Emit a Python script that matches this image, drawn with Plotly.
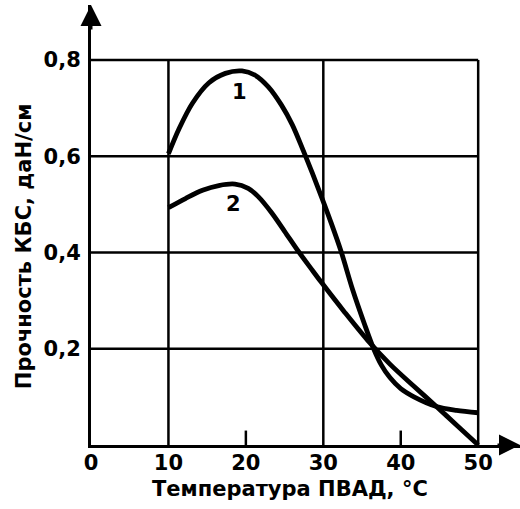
import plotly.graph_objects as go

# Data
curve1_x = [10, 11.4, 13.1, 15.2, 17.35, 19.5, 21.2, 22.9, 24.6, 26.0, 27.4, 28.6, 29.8, 31.0, 32.3, 33.8, 35.3, 36.5, 37.5, 38.6, 40.0, 41.7, 44.6, 47.2, 50]
curve1_y = [0.605, 0.658, 0.71, 0.752, 0.772, 0.777, 0.768, 0.744, 0.706, 0.665, 0.612, 0.564, 0.514, 0.462, 0.402, 0.322, 0.252, 0.20, 0.166, 0.14, 0.117, 0.10, 0.08, 0.072, 0.067]

curve2_x = [10, 12.2, 14.4, 16.5, 18.6, 20.3, 21.6, 23.3, 25.0, 26.7, 28.4, 29.7, 32.7, 35.7, 38.6, 41.7, 44.6, 47.3, 50]
curve2_y = [0.493, 0.512, 0.529, 0.539, 0.542, 0.533, 0.516, 0.483, 0.444, 0.404, 0.367, 0.339, 0.277, 0.218, 0.168, 0.122, 0.08, 0.04, 0.0]

x_ticks = [0, 10, 20, 30, 40, 50]
x_ticktext = ["0", "10", "20", "30", "40", "50"]
y_ticks = [0.2, 0.4, 0.6, 0.8]
y_ticktext = ["0,2", "0,4", "0,6", "0,8"]
x_grid = [10, 30, 50]
x_minor = [20, 40]

x_title = "Температура ПВАД, °C"
y_title = "Прочность КБС, даН/см"
labels = ["1", "2"]

FONT = "DejaVu Sans"
X_MAX, Y_MAX = 50, 0.8
X_RANGE = [0, 55.4]
Y_RANGE = [0, 0.914]

fig = go.Figure()
line_style = dict(color="black", width=4.8, shape="spline", smoothing=0.9)
fig.add_trace(go.Scatter(x=curve1_x, y=curve1_y, mode="lines", line=line_style, showlegend=False))
fig.add_trace(go.Scatter(x=curve2_x, y=curve2_y, mode="lines", line=line_style, showlegend=False))

shapes = []
for yv in y_ticks:
    shapes.append(dict(type="line", xref="x", yref="y", x0=0, x1=X_MAX, y0=yv, y1=yv,
                       line=dict(color="black", width=2.5), layer="below"))
for xv in x_grid:
    shapes.append(dict(type="line", xref="x", yref="y", x0=xv, x1=xv, y0=0, y1=Y_MAX,
                       line=dict(color="black", width=2.5), layer="below"))
for xv in x_minor:
    shapes.append(dict(type="line", xref="x", yref="y", x0=xv, x1=xv, y0=0, y1=0.03,
                       line=dict(color="black", width=2.5), layer="below"))

annotations = [
    # axis arrowheads
    dict(x=X_RANGE[1], y=0, xref="x", yref="y", ax=-24, ay=0, text="", showarrow=True,
         arrowhead=2, arrowsize=1.4, arrowwidth=3, arrowcolor="black"),
    dict(x=0, y=Y_RANGE[1], xref="x", yref="y", ax=0, ay=26, text="", showarrow=True,
         arrowhead=2, arrowsize=1.4, arrowwidth=3, arrowcolor="black"),
    # curve labels
    dict(x=19.2, y=0.733, xref="x", yref="y", text=labels[0], showarrow=False,
         font=dict(family=FONT, size=21, color="black", weight="bold")),
    dict(x=18.4, y=0.50, xref="x", yref="y", text=labels[1], showarrow=False,
         font=dict(family=FONT, size=21, color="black", weight="bold")),
    # axis titles
    dict(x=25.75, y=0, xref="x", yref="paper", yshift=-44, text=x_title, showarrow=False,
         xanchor="center", yanchor="middle",
         font=dict(family=FONT, size=21, color="black", weight="bold")),
    dict(x=0, y=0.411, xref="paper", yref="y", xshift=-67, text=y_title, showarrow=False,
         textangle=-90, xanchor="center", yanchor="middle",
         font=dict(family=FONT, size=21, color="black", weight="bold")),
]

fig.update_layout(
    width=520, height=509,
    margin=dict(l=91, r=0, t=5, b=64, autoexpand=False),
    paper_bgcolor="white", plot_bgcolor="white",
    shapes=shapes, annotations=annotations,
    xaxis=dict(range=X_RANGE, tickvals=x_ticks, ticktext=x_ticktext, showgrid=False,
               zeroline=False, showline=True, linecolor="black", linewidth=3, ticks="",
               ticklabelstandoff=-3, automargin=False,
               tickfont=dict(family=FONT, size=21, color="black", weight="bold")),
    yaxis=dict(range=Y_RANGE, tickvals=y_ticks, ticktext=y_ticktext, showgrid=False,
               zeroline=False, showline=True, linecolor="black", linewidth=3, ticks="",
               ticklabelstandoff=3, automargin=False,
               tickfont=dict(family=FONT, size=21, color="black", weight="bold")),
)

fig.write_html("out.html", config={"displayModeBar": False},
               post_script="document.body.style.margin='0px';")
